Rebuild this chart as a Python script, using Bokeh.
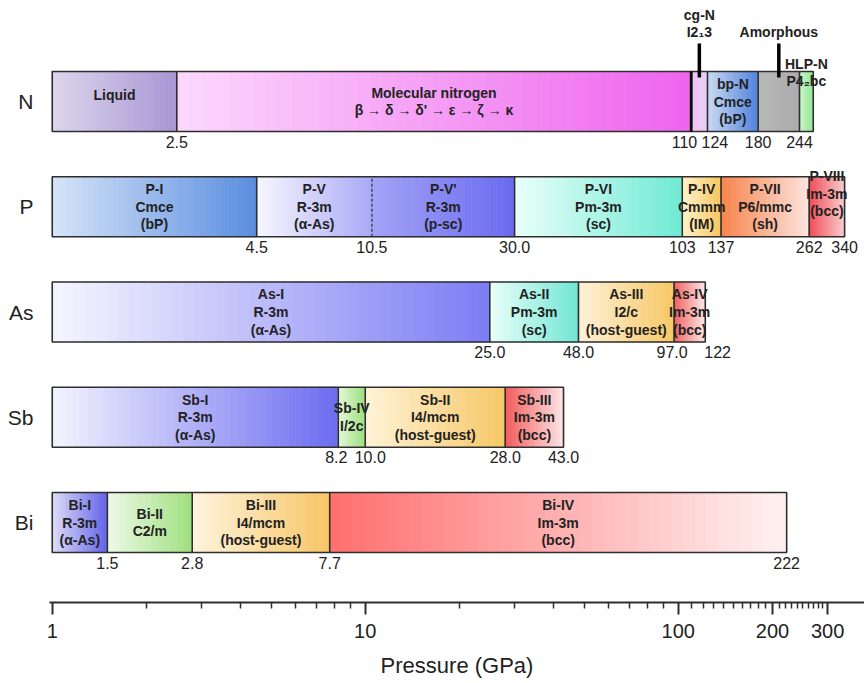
import numpy as np
from bokeh.plotting import figure
from bokeh.models import Range1d, FixedTicker, PrintfTickFormatter, ColumnDataSource
from bokeh.core.properties import value
from bokeh.embed import file_html
from bokeh.resources import INLINE

# Rows, top to bottom
elements = ["N", "P", "As", "Sb", "Bi"]

# Transition pressures (GPa); the first entry is where each bar starts
N_bounds = [1.0, 2.5, 110, 124, 180, 244, 270]
P_bounds = [1.0, 4.5, 10.5, 30.0, 103, 137, 262, 340]
As_bounds = [1.0, 25.0, 48.0, 97.0, 122]
Sb_bounds = [1.0, 8.2, 10.0, 28.0, 43.0]
Bi_bounds = [1.0, 1.5, 2.8, 7.7, 222]

# Phase names written inside the bars
N_phases = ["Liquid", "Molecular nitrogen\nβ → δ → δ' → ε → ζ → κ", "", "bp-N\nCmce\n(bP)", "", ""]
P_phases = ["P-I\nCmce\n(bP)", "P-V\nR-3m\n(α-As)", "P-V'\nR-3m\n(p-sc)", "P-VI\nPm-3m\n(sc)",
            "P-IV\nCmmm\n(IM)", "P-VII\nP6/mmc\n(sh)", "P-VIII\nIm-3m\n(bcc)"]
As_phases = ["As-I\nR-3m\n(α-As)", "As-II\nPm-3m\n(sc)", "As-III\nI2/c\n(host-guest)", "As-IV\nIm-3m\n(bcc)"]
Sb_phases = ["Sb-I\nR-3m\n(α-As)", "Sb-IV\nI/2c", "Sb-II\nI4/mcm\n(host-guest)", "Sb-III\nIm-3m\n(bcc)"]
Bi_phases = ["Bi-I\nR-3m\n(α-As)", "Bi-II\nC2/m", "Bi-III\nI4/mcm\n(host-guest)", "Bi-IV\nIm-3m\n(bcc)"]

# Nitrogen phases that are named above the bar: (name, phase index)
N_callouts = [("cg-N\nI2₁3", 2), ("Amorphous", 4), ("HLP-N\nP4₂bc", 5)]

# Gradient end colours (left, right) of each phase
N_colors = [("#ddd6ec", "#a796d4"), ("#fcd8fc", "#ee64ee"), ("#f6c2f6", "#e4d2f8"),
            ("#cbdaf3", "#4f82dc"), ("#b9b9b9", "#ababab"), ("#cdf6cd", "#96ea96")]
P_colors = [("#d6e4f8", "#5a8ddf"), ("#f8f8ff", "#a9a9f7"), ("#a3a3f6", "#6a6af0"),
            ("#eafffa", "#6feAd4"), ("#fff3cc", "#f7c65f"), ("#f7834a", "#fde4de"),
            ("#f04a55", "#f9cccc")]
As_colors = [("#f6f6ff", "#7c7cf4"), ("#eafffa", "#6fe6d2"), ("#fff1d8", "#f7c765"),
             ("#f35f5f", "#fde8e8")]
Sb_colors = [("#f4f4ff", "#6c6cf0"), ("#e6f8dc", "#9ee07c"), ("#fff3d8", "#f7c766"),
             ("#f25a5a", "#fde4e4")]
Bi_colors = [("#dedef8", "#6262ea"), ("#eff9e9", "#9fe07e"), ("#fff4df", "#f7c665"),
             ("#ff6e6e", "#fff2f2")]

bounds = dict(N=N_bounds, P=P_bounds, As=As_bounds, Sb=Sb_bounds, Bi=Bi_bounds)
phases = dict(N=N_phases, P=P_phases, As=As_phases, Sb=Sb_phases, Bi=Bi_phases)
colors = dict(N=N_colors, P=P_colors, As=As_colors, Sb=Sb_colors, Bi=Bi_colors)

# ---- layout ---------------------------------------------------------------
W, H = 864, 683
BORDER_L, BORDER_B = 49, 81
Y0, Y1 = -0.76, 4.96
PX = (H - BORDER_B) / (Y1 - Y0)       # pixels per row unit
HALF = 30 / PX                        # half bar height (60 px bars)
FONT = value("Liberation Sans")
TXT = "#222222"
EDGE = "#2e2e2e"

row_y = {e: len(elements) - 1 - i for i, e in enumerate(elements)}

p = figure(width=W, height=H, x_axis_type="log",
           x_range=Range1d(0.98, 393.6), y_range=Range1d(Y0, Y1),
           output_backend="svg", toolbar_location=None,
           min_border_left=BORDER_L, min_border_right=0, min_border_top=0,
           min_border_bottom=BORDER_B, background_fill_color="white",
           border_fill_color="white", outline_line_color=None)
p.grid.visible = False


def hex_rgb(c):
    c = c.lstrip("#")
    return np.array([int(c[i:i + 2], 16) for i in (0, 2, 4)], dtype=float)


def to_hex(rgb):
    r, g, b = [int(round(v)) for v in rgb]
    return "#%02x%02x%02x" % (r, g, b)


# ---- gradient bars (thin slices along the log axis) -----------------------
NSLICE = 40
sl = dict(left=[], right=[], bottom=[], top=[], color=[])
for e in elements:
    b = bounds[e]
    y = row_y[e]
    for (a, c), (c0, c1) in zip(zip(b[:-1], b[1:]), colors[e]):
        edges = np.logspace(np.log10(a), np.log10(c), NSLICE + 1)
        r0, r1 = hex_rgb(c0), hex_rgb(c1)
        for k in range(NSLICE):
            t = (k + 0.5) / NSLICE
            sl["left"].append(edges[k])
            sl["right"].append(edges[k + 1])
            sl["bottom"].append(y - HALF)
            sl["top"].append(y + HALF)
            sl["color"].append(to_hex(r0 + (r1 - r0) * t))
p.quad(left="left", right="right", bottom="bottom", top="top",
       fill_color="color", line_color="color", line_width=0.8,
       source=ColumnDataSource(sl))

# ---- outlines and phase boundaries -----------------------------------------
for e in elements:
    b = bounds[e]
    y = row_y[e]
    p.quad(left=[b[0]], right=[b[-1]], bottom=[y - HALF], top=[y + HALF],
           fill_color=None, line_color=EDGE, line_width=1.6)
    inner = b[1:-1]
    solid = [v for v in inner if not (e == "P" and v == 10.5)]
    p.segment(x0=solid, x1=solid, y0=[y - HALF] * len(solid), y1=[y + HALF] * len(solid),
              line_color=EDGE, line_width=1.6)

# dashed boundary between P-V and P-V'
p.segment(x0=[P_bounds[2]], x1=[P_bounds[2]], y0=[row_y["P"] - HALF], y1=[row_y["P"] + HALF],
          line_color=EDGE, line_width=1.2, line_dash="3 2")
# heavier edge where molecular nitrogen ends
p.segment(x0=[N_bounds[2]], x1=[N_bounds[2]], y0=[row_y["N"] - HALF], y1=[row_y["N"] + HALF],
          line_color="black", line_width=2.8)

# ---- phase names inside the bars -------------------------------------------
label_shift = {"Liquid": -7, "P-VIII\nIm-3m\n(bcc)": -13}
for e in elements:
    b = bounds[e]
    y = row_y[e]
    for i, name in enumerate(phases[e]):
        if not name:
            continue
        xc = np.sqrt(b[i] * b[i + 1])
        p.text(x=[xc], y=[y], text=[name], text_align="center", text_baseline="middle",
               text_font=FONT, text_font_style="bold", text_font_size="14px",
               text_color=TXT, text_line_height=1.1,
               y_offset=label_shift.get(name, 0))

# ---- nitrogen call-outs above the bar ---------------------------------------
yN = row_y["N"]
callout_dy = {"cg-N\nI2₁3": -78, "Amorphous": -70, "HLP-N\nP4₂bc": -29}
for name, i in N_callouts:
    xc = np.sqrt(N_bounds[i] * N_bounds[i + 1])
    p.text(x=[xc], y=[yN], text=[name], text_align="center", text_baseline="middle",
           text_font=FONT, text_font_style="bold", text_font_size="14px",
           text_color=TXT, text_line_height=1.1, y_offset=callout_dy[name])
# pointer bars for cg-N and amorphous nitrogen
for i in (2, 4):
    xc = np.sqrt(N_bounds[i] * N_bounds[i + 1])
    p.segment(x0=[xc], x1=[xc], y0=[yN + 58 / PX], y1=[yN + 24 / PX],
              line_color="black", line_width=3.5)

# ---- transition pressures under the bars -----------------------------------
def fmt(v):
    return "%.1f" % v if v < 100 else "%d" % round(v)


nudge = {("N", 110): ("right", 6), ("N", 124): ("left", -6),
         ("Sb", 8.2): ("center", -2), ("Sb", 10.0): ("center", 5),
         ("As", 97.0): ("center", -2), ("As", 122): ("left", -1)}
for e in elements:
    b = bounds[e]
    y = row_y[e]
    vals = b[1:-1] if e == "N" else b[1:]
    for v in vals:
        align, dx = nudge.get((e, v), ("center", 0))
        p.text(x=[v], y=[y - HALF], text=[fmt(v)], text_align=align, text_baseline="top",
               text_font=FONT, text_font_size="16px", text_color=TXT,
               x_offset=dx, y_offset=4)

# ---- axes ------------------------------------------------------------------
xa = p.xaxis[0]
xa.ticker = FixedTicker(ticks=[1, 10, 100, 200, 300],
                        minor_ticks=list(range(2, 10)) + list(range(20, 100, 10))
                        + list(range(110, 200, 10)) + list(range(210, 300, 10)))
xa.formatter = PrintfTickFormatter(format="%d")
xa.axis_label = "Pressure (GPa)"
xa.axis_label_text_font = "Liberation Sans"
xa.axis_label_text_font_style = "normal"
xa.axis_label_text_font_size = "22px"
xa.axis_label_text_color = TXT
xa.axis_label_standoff = 12
xa.major_label_text_font = "Liberation Sans"
xa.major_label_text_font_size = "20px"
xa.major_label_text_color = TXT
xa.major_label_standoff = 9
xa.axis_line_color = EDGE
xa.axis_line_width = 2
xa.major_tick_line_color = EDGE
xa.major_tick_line_width = 2
xa.minor_tick_line_color = EDGE
xa.minor_tick_line_width = 1.5
xa.major_tick_in = 0
xa.major_tick_out = 12
xa.minor_tick_in = 0
xa.minor_tick_out = 6

ya = p.yaxis[0]
ya.ticker = FixedTicker(ticks=[row_y[e] for e in elements])
ya.major_label_overrides = {row_y[e]: e for e in elements}
ya.major_label_text_font = "Liberation Sans"
ya.major_label_text_font_size = "21px"
ya.major_label_text_color = TXT
ya.major_label_standoff = 16
ya.axis_line_color = None
ya.major_tick_line_color = None
ya.minor_tick_line_color = None
ya.major_tick_in = 0
ya.major_tick_out = 0
ya.minor_tick_in = 0
ya.minor_tick_out = 0

open("out.html", "w").write(file_html(p, INLINE))
